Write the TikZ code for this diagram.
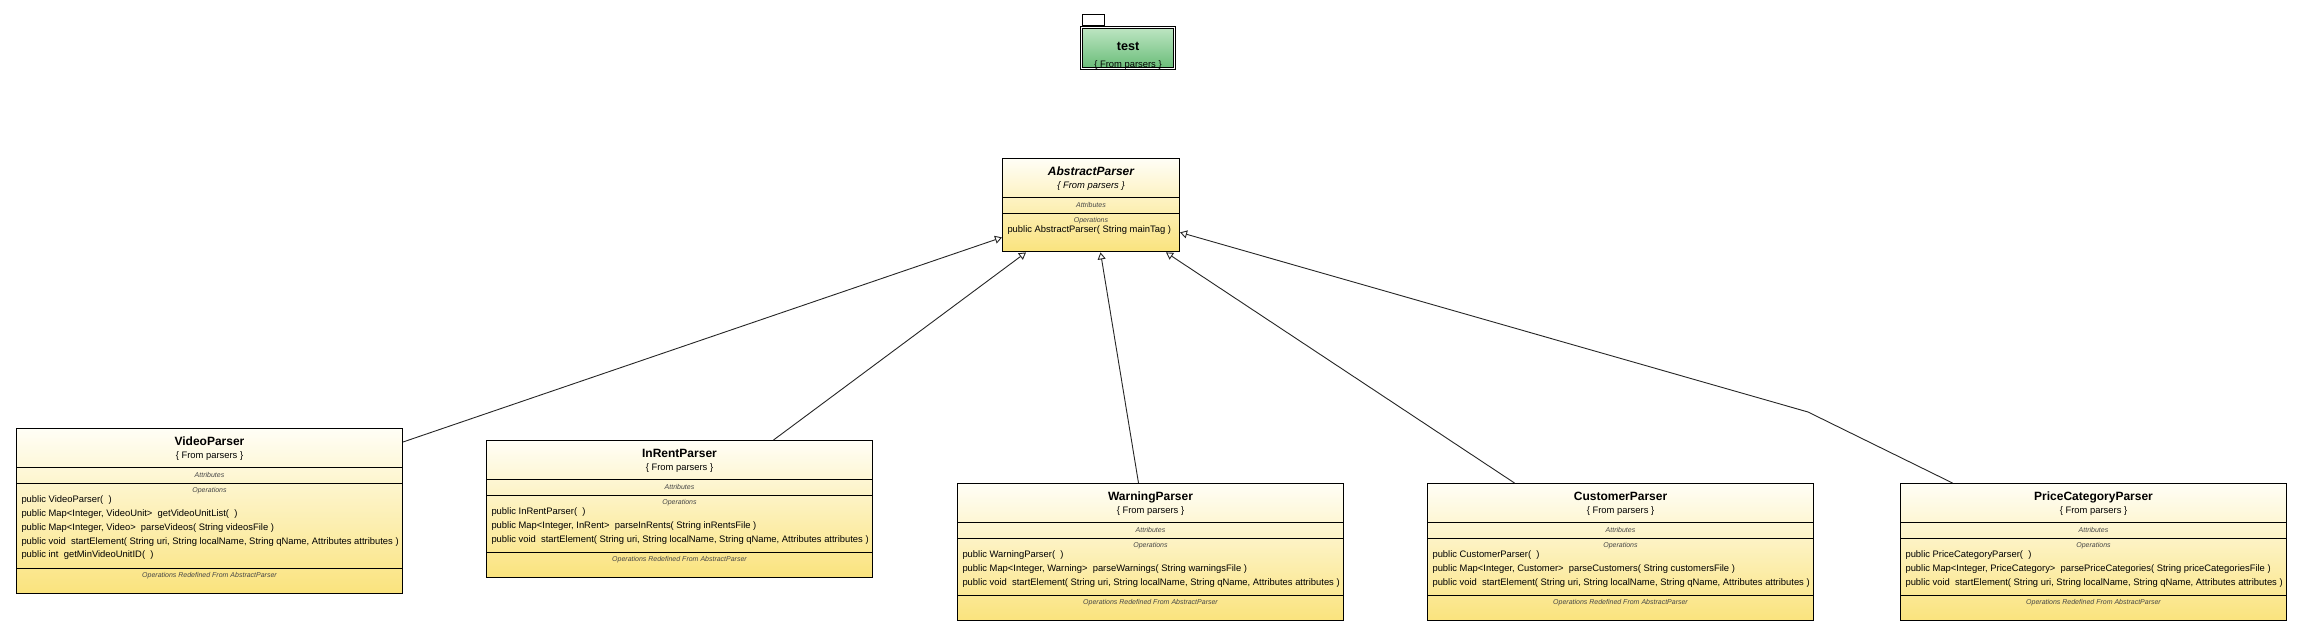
\documentclass[tikz,border=0pt]{standalone}
\usepackage{fontspec}
\setmainfont{Liberation Sans}
\usepackage{xcolor}
\usepackage{tikz}
\usetikzlibrary{shapes, arrows.meta, positioning}

\definecolor{classtop}{RGB}{255,254,246}
\definecolor{classbot}{RGB}{250,227,125}
\definecolor{pkgtop}{RGB}{190,230,195}
\definecolor{pkgbot}{RGB}{105,188,120}
\definecolor{notegray}{RGB}{70,70,70}

\newcommand{\titlef}{\fontsize{6}{7}\selectfont\bfseries}
\newcommand{\bodyf}{\fontsize{4.7}{6.9}\selectfont}
\newcommand{\notef}{\fontsize{3.5}{4.2}\selectfont\itshape\color{notegray}}

% compartments of a class box
\newcommand{\chead}[3]{\parbox[c][18.9pt][t]{#1}{\centering\bodyf\rule{0pt}{8pt}{\titlef #2}\\[-0.4pt]#3}}
\newcommand{\cattr}[1]{\parbox[c][7.4pt][c]{#1}{\centering{\notef Attributes\par}}}
\newcommand{\cops}[3]{\parbox[c][#2][t]{#1}{\centering{\notef\rule{0pt}{4.5pt}Operations\par}
  \vspace{-1.9pt}\raggedright\bodyf\begin{tabular}[t]{@{\hspace{2.5pt}}l@{}}#3\end{tabular}\par}}
\newcommand{\credef}{\parbox[c][11.9pt][t]{193pt}{\centering{\notef\rule{0pt}{4pt}Operations Redefined From AbstractParser\par}}}
\newcommand{\startel}{public void\ \ startElement( String uri, String localName, String qName, Attributes attributes )}

\begin{document}
\begin{tikzpicture}[>={Triangle[open, length=3.5pt, width=4pt]}, x=0.5pt, y=-0.5pt]
    \tikzstyle{umlclass} = [draw, line width=0.5pt, rectangle split, rectangle split parts=4, inner sep=0pt, top color=classtop, bottom color=classbot]
    \tikzstyle{pkg} = [draw, double, double distance=0.6pt, line width=0.4pt, top color=pkgtop, bottom color=pkgbot, inner sep=0pt, minimum width=46.6pt, minimum height=20.6pt]
    \tikzstyle{pkgtab} = [draw, line width=0.4pt, fill=white, inner sep=0pt, minimum width=11pt, minimum height=5.5pt]
    \tikzstyle{gen} = [->, line width=0.45pt, black!85]

    \useasboundingbox[fill=white] (0,0) rectangle (2300,638);

    \node[pkg] (test) at (1128,48) {\parbox[c][20pt][t]{46pt}{\centering\bodyf\rule{0pt}{11pt}{\fontsize{6.3}{7}\selectfont\bfseries test}\\[2pt]\{ From parsers \}}};
    \node[pkgtab, anchor=south west] (testtab) at ([xshift=0.5pt, yshift=0.5pt]test.north west) {};

    \node[umlclass, rectangle split parts=3, anchor=north west] (abstract) at (1002,158) {\chead{88.5pt}{\itshape AbstractParser}{\itshape\{ From parsers \}}
        \nodepart{two}\cattr{88.5pt}
        \nodepart{three}\cops{88.5pt}{18.9pt}{public AbstractParser( String mainTag )}};

    \node[umlclass, anchor=north west] (video) at (16,428) {\chead{193pt}{VideoParser}{\{ From parsers \}}
        \nodepart{two}\cattr{193pt}
        \nodepart{three}\cops{193pt}{42.4pt}{public VideoParser(\ \ )\\
            public Map<Integer, VideoUnit>\ \ getVideoUnitList(\ \ )\\
            public Map<Integer, Video>\ \ parseVideos( String videosFile )\\
            \startel\\
            public int\ \ getMinVideoUnitID(\ \ )}
        \nodepart{four}\credef};

    \node[umlclass, anchor=north west] (inrent) at (486,440) {\chead{193pt}{InRentParser}{\{ From parsers \}}
        \nodepart{two}\cattr{193pt}
        \nodepart{three}\cops{193pt}{28.4pt}{public InRentParser(\ \ )\\
            public Map<Integer, InRent>\ \ parseInRents( String inRentsFile )\\
            \startel}
        \nodepart{four}\credef};

    \node[umlclass, anchor=north west] (warning) at (957,483) {\chead{193pt}{WarningParser}{\{ From parsers \}}
        \nodepart{two}\cattr{193pt}
        \nodepart{three}\cops{193pt}{28.4pt}{public WarningParser(\ \ )\\
            public Map<Integer, Warning>\ \ parseWarnings( String warningsFile )\\
            \startel}
        \nodepart{four}\credef};

    \node[umlclass, right=41.5pt of warning] (customer) {\chead{193pt}{CustomerParser}{\{ From parsers \}}
        \nodepart{two}\cattr{193pt}
        \nodepart{three}\cops{193pt}{28.4pt}{public CustomerParser(\ \ )\\
            public Map<Integer, Customer>\ \ parseCustomers( String customersFile )\\
            \startel}
        \nodepart{four}\credef};

    \node[umlclass, right=43pt of customer] (pricecat) {\chead{193pt}{PriceCategoryParser}{\{ From parsers \}}
        \nodepart{two}\cattr{193pt}
        \nodepart{three}\cops{193pt}{28.4pt}{public PriceCategoryParser(\ \ )\\
            public Map<Integer, PriceCategory>\ \ parsePriceCategories( String priceCategoriesFile )\\
            \startel}
        \nodepart{four}\credef};

    \coordinate (bend) at (1808,412);

    \draw[gen] ([yshift=-7pt]video.north east) -- ([yshift=7.5pt]abstract.south west);
    \draw[gen] ([xshift=47pt]inrent.north) -- ([xshift=12pt]abstract.south west);
    \draw[gen] ([xshift=-6pt]warning.north) -- ([xshift=4.75pt]abstract.south);
    \draw[gen] ([xshift=-53pt]customer.north) -- ([xshift=-7pt]abstract.south east);
    \draw[gen] ([xshift=-70.5pt]pricecat.north) -- (bend) -- ([yshift=10pt]abstract.south east);
\end{tikzpicture}
\end{document}
